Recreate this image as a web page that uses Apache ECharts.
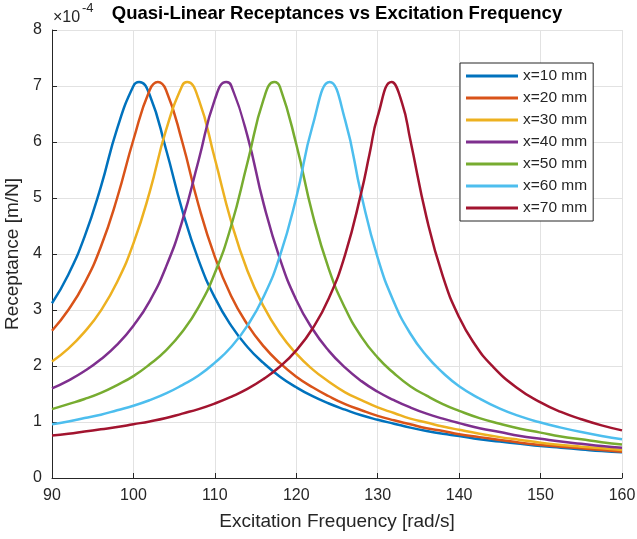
<!DOCTYPE html>
<html><head><meta charset="utf-8">
<script src="https://cdn.jsdelivr.net/npm/echarts@6/dist/echarts.min.js"></script>
<style>html,body{margin:0;padding:0;background:#fff}#c{width:637px;height:539px}</style>
</head><body><div id="c"></div>
<script>
const seriesNames = ['x=10 mm','x=20 mm','x=30 mm','x=40 mm','x=50 mm','x=60 mm','x=70 mm'];
const colors = ['#0072BD','#D95319','#EDB120','#7E2F8E','#77AC30','#4DBEEE','#A2142F'];

const freq10 = [90,92,94,96,98,100,100.7,102,104,106,108,110,112,114,116,118,120,122,124,126,128,130,132,134,136,138,140,142.5,145,147.5,150,152.5,155,157.5,160];
const rec10  = [3.12,3.63,4.31,5.20,6.24,7.00,7.07,6.84,5.87,4.78,3.89,3.22,2.72,2.34,2.05,1.81,1.62,1.46,1.33,1.22,1.12,1.04,0.97,0.90,0.84,0.79,0.75,0.69,0.65,0.61,0.57,0.54,0.51,0.48,0.46];

const freq20 = [90,92,94,96,98,100,102,103,104,106,108,110,112,114,116,118,120,122,124,126,128,130,132,134,136,138,140,142.5,145,147.5,150,152.5,155,157.5,160];
const rec20  = [2.63,3.00,3.48,4.13,5.00,6.04,6.93,7.07,6.93,6.00,4.87,3.95,3.25,2.74,2.35,2.05,1.81,1.62,1.46,1.32,1.21,1.11,1.03,0.96,0.89,0.84,0.78,0.73,0.68,0.63,0.59,0.56,0.53,0.50,0.47];

const freq30 = [90,92,94,96,98,100,102,104,106,106.6,108,110,112,114,116,118,120,122,124,126,128,130,132,134,136,138,140,142.5,145,147.5,150,152.5,155,157.5,160];
const rec30  = [2.08,2.31,2.61,2.99,3.50,4.19,5.11,6.21,7.01,7.07,6.77,5.70,4.58,3.70,3.06,2.58,2.22,1.94,1.72,1.53,1.39,1.26,1.16,1.06,0.99,0.92,0.86,0.79,0.73,0.68,0.63,0.59,0.56,0.53,0.50];

const freq40 = [90,92,94,96,98,100,102,104,106,108,110,111.4,112,114,116,118,120,122,124,126,128,130,132,134,136,138,140,142.5,145,147.5,150,152.5,155,157.5,160];
const rec40  = [1.60,1.74,1.91,2.12,2.38,2.72,3.16,3.77,4.59,5.67,6.76,7.07,7.01,6.11,4.89,3.91,3.18,2.66,2.27,1.97,1.73,1.54,1.39,1.26,1.15,1.06,0.98,0.89,0.82,0.75,0.70,0.65,0.61,0.57,0.54];

const freq50 = [90,92,94,96,98,100,102,104,106,108,110,112,114,116,117.3,118,120,122,124,126,128,130,132,134,136,138,140,142.5,145,147.5,150,152.5,155,157.5,160];
const rec50  = [1.23,1.32,1.41,1.52,1.66,1.82,2.03,2.28,2.61,3.05,3.66,4.50,5.63,6.77,7.07,6.98,5.96,4.71,3.73,3.03,2.52,2.15,1.87,1.64,1.47,1.32,1.20,1.07,0.97,0.88,0.81,0.74,0.69,0.64,0.60];

const freq60 = [90,92,94,96,98,100,102,104,106,108,110,112,114,116,118,120,122,124.1,126,128,130,132,134,136,138,140,142.5,145,147.5,150,152.5,155,157.5,160];
const rec60  = [0.96,1.01,1.07,1.13,1.21,1.29,1.39,1.51,1.66,1.83,2.06,2.34,2.72,3.24,3.97,5.01,6.29,7.07,6.39,5.05,3.93,3.14,2.58,2.18,1.88,1.64,1.42,1.24,1.10,0.99,0.90,0.82,0.75,0.69];

const freq70 = [90,92,94,96,98,100,102,104,106,108,110,112,114,116,118,120,122,124,126,128,129,130,131.7,133,134,136,138,140,142,144,147,150,152.5,155,157.5,160];
const rec70  = [0.76,0.79,0.83,0.87,0.91,0.96,1.01,1.07,1.15,1.23,1.33,1.45,1.59,1.77,1.99,2.28,2.67,3.21,3.99,5.11,5.79,6.46,7.07,6.69,6.04,4.65,3.60,2.87,2.37,2.01,1.62,1.35,1.18,1.05,0.94,0.85];

const freqs = [freq10,freq20,freq30,freq40,freq50,freq60,freq70];
const recs = [rec10,rec20,rec30,rec40,rec50,rec60,rec70];

const xMin = 90, xMax = 160, xStep = 10;
const yMin = 0, yMax = 8, yStep = 1;

const FONT = "'Liberation Sans', Arial, Helvetica, sans-serif";
const TXT = '#262626';

const chart = echarts.init(document.getElementById('c'), null, {renderer:'canvas'});

const series = seriesNames.map((n,i)=>({
  name:n, type:'line', showSymbol:false, symbol:'none', smooth:0.5,
  lineStyle:{width:2.5, color:colors[i]}, itemStyle:{color:colors[i]},
  data: freqs[i].map((f,j)=>[f, recs[i][j]])
}));

chart.setOption({
  animation:false,
  textStyle:{fontFamily:FONT},
  grid:{left:52, right:15, top:30, bottom:61, containLabel:false, outerBoundsMode:'none'},
  xAxis:{
    type:'value', min:xMin, max:xMax, interval:xStep,
    name:'Excitation Frequency [rad/s]', nameLocation:'middle', nameGap:34,
    nameTextStyle:{fontSize:19, color:TXT, fontFamily:FONT},
    axisLine:{onZero:false, lineStyle:{color:TXT, width:1}},
    axisTick:{inside:true, length:5, lineStyle:{color:TXT}},
    axisLabel:{fontSize:16, color:TXT, margin:10, fontFamily:FONT},
    splitLine:{show:true, lineStyle:{color:'#e2e2e2', width:1}}
  },
  yAxis:{
    type:'value', min:yMin, max:yMax, interval:yStep,
    name:'Receptance [m/N]', nameLocation:'middle', nameGap:25,
    nameTextStyle:{fontSize:19, color:TXT, fontFamily:FONT},
    axisLine:{show:true, onZero:false, lineStyle:{color:TXT, width:1}},
    axisTick:{show:true, inside:true, length:5, lineStyle:{color:TXT}},
    axisLabel:{fontSize:16, color:TXT, margin:10, fontFamily:FONT},
    splitLine:{show:true, lineStyle:{color:'#e2e2e2', width:1}}
  },
  legend:{
    orient:'vertical', left:460, top:63, padding:[4,6,4,6],
    itemWidth:52, itemHeight:3, itemGap:4, icon:'rect',
    backgroundColor:'#fff', borderColor:TXT, borderWidth:1, borderRadius:0,
    textStyle:{fontSize:15.5, color:TXT, lineHeight:18, height:18, fontFamily:FONT},
    data:seriesNames
  },
  graphic:[
    {type:'text', x:337, y:14, style:{text:'Quasi-Linear Receptances vs Excitation Frequency', fontSize:18.5, fontWeight:'bold', fill:'#000', fontFamily:FONT, align:'center', verticalAlign:'middle'}},
    {type:'text', x:53, y:18, style:{text:'\u00d710', fontSize:16, fill:TXT, fontFamily:FONT, align:'left', verticalAlign:'middle'}},
    {type:'text', x:82, y:8, style:{text:'-4', fontSize:13, fill:TXT, fontFamily:FONT, align:'left', verticalAlign:'middle'}}
  ],
  series:series
});
</script>
</body></html>
